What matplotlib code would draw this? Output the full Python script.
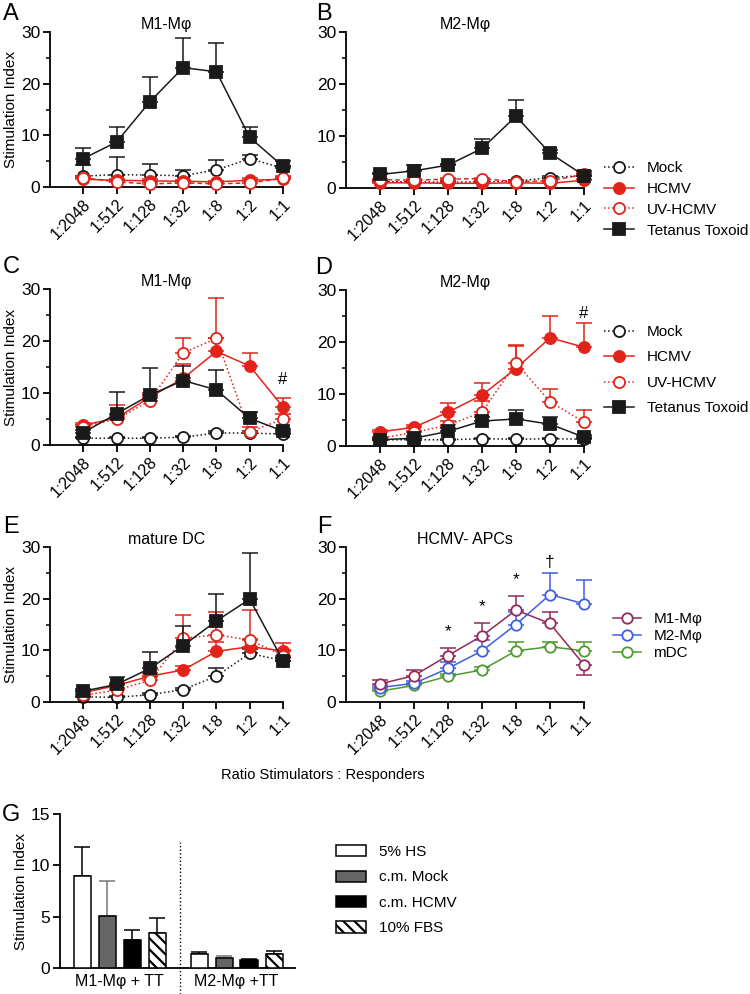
import matplotlib
matplotlib.use("Agg")
import matplotlib.pyplot as plt
import numpy as np
from matplotlib.lines import Line2D
from matplotlib.patches import Patch

plt.rcParams["font.family"] = ["Liberation Sans", "DejaVu Sans"]
plt.rcParams["font.size"] = 11
plt.rcParams["hatch.linewidth"] = 1.6

# ---- data ----
ratios = ["1:2048", "1:512", "1:128", "1:32", "1:8", "1:2", "1:1"]
series_names = ["Mock", "HCMV", "UV-HCMV", "Tetanus Toxoid"]

# A: M1-Mphi
a_mock = [2.1, 2.4, 2.3, 2.2, 3.3, 5.5, 3.6]
a_mock_err = [2.2, 3.5, 2.1, 1.1, 1.9, 0.6, 0.5]
a_hcmv = [1.5, 1.3, 1.2, 1.1, 1.0, 1.3, 1.5]
a_hcmv_err = [0.4, 0.3, 0.3, 0.3, 0.2, 0.5, 0.4]
a_uv = [1.8, 1.0, 0.6, 0.8, 0.6, 0.8, 1.7]
a_uv_err = [0.3, 0.4, 0.3, 0.3, 0.3, 0.4, 0.4]
a_tt = [5.5, 8.7, 16.5, 23.1, 22.3, 9.6, 4.0]
a_tt_err = [2.1, 3.0, 4.7, 5.8, 5.6, 2.0, 1.0]

# B: M2-Mphi
b_mock = [1.2, 1.2, 1.1, 1.2, 1.3, 2.0, 2.4]
b_mock_err = [0.2, 0.2, 0.2, 0.2, 0.2, 0.3, 0.3]
b_hcmv = [1.0, 1.0, 0.9, 0.9, 1.0, 0.9, 1.5]
b_hcmv_err = [0.2, 0.2, 0.2, 0.2, 0.2, 0.2, 0.3]
b_uv = [1.6, 1.5, 1.7, 1.8, 1.2, 1.4, 2.6]
b_uv_err = [0.2, 0.2, 0.2, 0.2, 0.2, 0.2, 0.3]
b_tt = [2.6, 3.3, 4.4, 7.6, 13.8, 6.7, 2.4]
b_tt_err = [0.3, 1.2, 0.3, 1.9, 3.2, 0.6, 0.8]

# C: M1-Mphi
c_mock = [1.3, 1.3, 1.3, 1.5, 2.3, 2.3, 2.1]
c_mock_err = [0.2, 0.2, 0.2, 0.2, 0.3, 0.3, 0.3]
c_hcmv = [3.8, 5.2, 9.2, 12.8, 18.0, 15.2, 7.3]
c_hcmv_err = [0.4, 2.4, 0.8, 2.7, 2.5, 2.4, 1.7]
c_uv = [3.5, 5.0, 8.5, 17.7, 20.5, 2.5, 5.0]
c_uv_err = [0.3, 0.5, 0.5, 2.8, 7.7, 1.0, 1.0]
c_tt = [2.4, 6.0, 9.6, 12.4, 10.6, 5.1, 2.7]
c_tt_err = [0.5, 4.2, 5.2, 2.8, 3.8, 1.2, 0.3]

# D: M2-Mphi
d_mock = [1.2, 1.2, 1.2, 1.4, 1.3, 1.4, 1.3]
d_mock_err = [0.2, 0.2, 0.2, 0.2, 0.2, 0.2, 0.2]
d_hcmv = [2.7, 3.6, 6.5, 9.8, 14.9, 20.8, 19.0]
d_hcmv_err = [0.3, 0.4, 1.7, 2.3, 4.3, 4.2, 4.6]
d_uv = [1.5, 2.6, 4.0, 6.5, 16.0, 8.5, 4.6]
d_uv_err = [0.2, 0.3, 0.8, 2.1, 3.4, 2.5, 2.3]
d_tt = [1.2, 1.5, 2.8, 4.8, 5.2, 4.2, 1.7]
d_tt_err = [0.3, 0.5, 0.7, 0.7, 1.7, 1.4, 0.4]

# E: mature DC
e_mock = [1.0, 0.9, 1.4, 2.4, 5.0, 9.4, 8.0]
e_mock_err = [0.2, 0.2, 0.3, 0.3, 1.5, 0.8, 0.8]
e_hcmv = [1.8, 3.2, 5.0, 6.2, 9.8, 10.7, 9.9]
e_hcmv_err = [0.3, 0.4, 0.6, 0.8, 1.8, 1.5, 1.5]
e_uv = [1.3, 2.3, 4.2, 12.3, 13.0, 12.0, 9.0]
e_uv_err = [0.3, 0.5, 0.7, 4.6, 4.4, 5.8, 1.0]
e_tt = [2.1, 3.4, 6.5, 10.9, 15.7, 19.9, 8.0]
e_tt_err = [0.4, 1.4, 3.2, 3.9, 5.3, 9.0, 0.5]

# F: HCMV- APCs
apc_names = ["M1-Mφ", "M2-Mφ", "mDC"]
f_m1 = [3.5, 5.1, 9.0, 12.8, 17.8, 15.2, 7.2]
f_m1_err_up = [0.8, 1.0, 1.5, 2.5, 2.7, 2.3, 0.0]
f_m1_err_lo = [0.0, 0.0, 0.0, 0.0, 0.0, 0.0, 2.0]
f_m2 = [2.8, 3.6, 6.5, 9.9, 15.0, 20.8, 19.0]
f_m2_err = [0.3, 0.4, 1.2, 2.1, 2.5, 4.2, 4.6]
f_dc = [2.1, 3.2, 5.0, 6.2, 9.9, 10.7, 9.9]
f_dc_err = [0.3, 0.3, 0.5, 0.6, 1.8, 1.0, 1.8]
f_marks = ["", "", "*", "*", "*", "†", ""]
f_mark_y = [0, 0, 13.6, 18.4, 23.6, 27.0, 0]

# significance marks in C and D at 1:1
c_mark_y = 12.6
d_mark_y = 25.4

# G: bars
g_groups = ["M1-Mφ + TT", "M2-Mφ +TT"]
g_conditions = ["5% HS", "c.m. Mock", "c.m. HCMV", "10% FBS"]
g_m1 = [9.0, 5.1, 2.7, 3.45]
g_m1_err = [2.75, 3.4, 1.05, 1.45]
g_m2 = [1.35, 1.0, 0.8, 1.35]
g_m2_err = [0.2, 0.15, 0.08, 0.3]

RED = "#e2231a"
BLK = "#1a1a1a"
C_M1 = "#93295a"
C_M2 = "#3d5fe0"
C_DC = "#4e9a2e"

fig = plt.figure(figsize=(7.5, 9.94), dpi=100)
W, H = 750.0, 994.0


def add_ax(x0, x1, ytop, ybot):
    return fig.add_axes([x0 / W, 1 - ybot / H, (x1 - x0) / W, (ybot - ytop) / H])


def style(ax, ymax=30, major=10, minor=True, xt=True):
    for s in ["top", "right"]:
        ax.spines[s].set_visible(False)
    for s in ["left", "bottom"]:
        ax.spines[s].set_linewidth(1.3)
    ax.set_ylim(0, ymax)
    ax.set_yticks(np.arange(0, ymax + 1, major))
    if minor:
        ax.set_yticks(np.arange(major / 2, ymax, major), minor=True)
    ax.tick_params(direction="out", length=5, width=1.3, labelsize=12.5, pad=2)
    ax.tick_params(which="minor", length=3, width=1.1)
    if xt:
        ax.set_xlim(-1, 6)
        ax.set_xticks(range(len(ratios)))
        ax.set_xticklabels(ratios, rotation=45, ha="right", rotation_mode="anchor", fontsize=11.5)


def series(ax, y, err, color, marker, ls, filled, ms=8, lo=None, z=3):
    x = np.arange(len(y))
    lower = np.zeros(len(y)) if lo is None else np.array(lo)
    ax.errorbar(x, y, yerr=[lower, err], fmt="none", ecolor=color, elinewidth=1.1,
                capsize=5.5, capthick=1.1, clip_on=False, zorder=z)
    ax.plot(x, y, color=color, ls=ls, lw=1.1, marker=marker, ms=ms,
            mfc=color if filled else "white", mec=color, mew=1.3,
            clip_on=False, zorder=z + 0.5)


styles = [
    dict(color=BLK, marker="o", ls=":", filled=False),
    dict(color=RED, marker="o", ls="-", filled=True),
    dict(color=RED, marker="o", ls=":", filled=False),
    dict(color=BLK, marker="s", ls="-", filled=True),
]


def four(ax, data, uv_ls=":"):
    for i, (y, e) in enumerate(data):
        st = dict(styles[i])
        if i == 2:
            st["ls"] = uv_ls
        series(ax, y, e, z=2 + i, **st)


def handles4():
    hs = []
    for st in styles:
        hs.append(Line2D([], [], color=st["color"], ls=st["ls"], lw=1.1, marker=st["marker"], ms=8,
                         mfc=st["color"] if st["filled"] else "white", mec=st["color"], mew=1.3))
    return hs


# ---- A / B ----
axA = add_ax(50, 283, 32, 187)
style(axA)
four(axA, [(a_mock, a_mock_err), (a_hcmv, a_hcmv_err), (a_uv, a_uv_err), (a_tt, a_tt_err)],
     uv_ls=(0, (3, 2)))
axA.set_title("M1-Mφ", fontsize=11.5, pad=1)
axA.set_ylabel("Stimulation Index", fontsize=11, labelpad=2)

axB = add_ax(346, 584, 32, 188)
style(axB)
four(axB, [(b_mock, b_mock_err), (b_hcmv, b_hcmv_err), (b_uv, b_uv_err), (b_tt, b_tt_err)],
     uv_ls=(0, (3, 2)))
axB.set_title("M2-Mφ", fontsize=11.5, pad=1)

fig.legend(handles4(), series_names, loc="upper left", bbox_to_anchor=(604 / W, 1 - 161 / H),
           frameon=False, borderpad=0, borderaxespad=0, handlelength=1.95, handletextpad=0.85,
           labelspacing=0.45, fontsize=11)

# ---- C / D ----
axC = add_ax(50, 283, 289, 445)
style(axC)
four(axC, [(c_mock, c_mock_err), (c_hcmv, c_hcmv_err), (c_uv, c_uv_err), (c_tt, c_tt_err)])
axC.set_title("M1-Mφ", fontsize=11.5, pad=1)
axC.set_ylabel("Stimulation Index", fontsize=11, labelpad=2)
axC.text(6, c_mark_y, "#", ha="center", va="center", fontsize=12)

axD = add_ax(346, 584, 290, 446)
style(axD)
four(axD, [(d_mock, d_mock_err), (d_hcmv, d_hcmv_err), (d_uv, d_uv_err), (d_tt, d_tt_err)])
axD.set_title("M2-Mφ", fontsize=11.5, pad=1)
axD.text(6, d_mark_y, "#", ha="center", va="center", fontsize=12)

fig.legend(handles4(), series_names, loc="upper left", bbox_to_anchor=(604 / W, 1 - 325 / H),
           frameon=False, borderpad=0, borderaxespad=0, handlelength=1.95, handletextpad=0.85,
           labelspacing=0.75, fontsize=11)

# ---- E / F ----
axE = add_ax(50, 283, 547, 702)
style(axE)
four(axE, [(e_mock, e_mock_err), (e_hcmv, e_hcmv_err), (e_uv, e_uv_err), (e_tt, e_tt_err)])
axE.set_title("mature DC", fontsize=11.5, pad=1)
axE.set_ylabel("Stimulation Index", fontsize=11, labelpad=2)

axF = add_ax(346, 584, 547, 702)
style(axF)
series(axF, f_dc, f_dc_err, C_DC, "o", "-", False, ms=7.5, z=2)
series(axF, f_m2, f_m2_err, C_M2, "o", "-", False, ms=7.5, z=3)
series(axF, f_m1, f_m1_err_up, C_M1, "o", "-", False, ms=7.5, lo=f_m1_err_lo, z=4)
axF.set_title("HCMV- APCs", fontsize=11.5, pad=1)
for i, m in enumerate(f_marks):
    if m:
        axF.text(i, f_mark_y[i], m, ha="center", va="center", fontsize=12.5)

hF = [Line2D([], [], color=c, lw=1.1, marker="o", ms=7.5, mfc="white", mec=c, mew=1.3)
      for c in (C_M1, C_M2, C_DC)]
fig.legend(hF, apc_names, loc="upper left", bbox_to_anchor=(613 / W, 1 - 612 / H),
           frameon=False, borderpad=0, borderaxespad=0, handlelength=1.8, handletextpad=0.85,
           labelspacing=0.2, fontsize=11)

fig.text(323 / W, 1 - 775 / H, "Ratio Stimulators : Responders", ha="center", va="center", fontsize=10.5)

# ---- G ----
axG = add_ax(60, 295, 814, 968)
style(axG, ymax=15, major=5, minor=False, xt=False)
bar_fc = ["white", "#666666", "black", "white"]
bar_hatch = [None, None, None, "\\\\\\"]
err_col = ["black", "#777777", "black", "black"]
bases = [0.88, 5.56]
for g, (vals, errs) in enumerate([(g_m1, g_m1_err), (g_m2, g_m2_err)]):
    for i in range(4):
        x = bases[g] + i
        axG.bar(x, vals[i], width=0.68, color=bar_fc[i], edgecolor="black", linewidth=1.1,
                hatch=bar_hatch[i], zorder=3)
        axG.errorbar(x, vals[i], yerr=[[0], [errs[i]]], fmt="none", ecolor=err_col[i],
                     elinewidth=1.1, capsize=5.5, capthick=1.1, zorder=2)
axG.set_xlim(0, 9.4)
axG.set_xticks([bases[0] + 1.5, bases[1] + 1.5])
axG.set_xticklabels(g_groups, fontsize=11.5)
axG.tick_params(axis="x", length=0, pad=4)
axG.axvline(4.8, ymin=-0.17, ymax=0.82, color="black", ls=":", lw=1.0, clip_on=False)
axG.set_ylabel("Stimulation Index", fontsize=11, labelpad=2)

hG = [Patch(facecolor=bar_fc[i], edgecolor="black", linewidth=1.1, hatch=bar_hatch[i]) for i in range(4)]
fig.legend(hG, g_conditions, loc="upper left", bbox_to_anchor=(336 / W, 1 - 845 / H),
           frameon=False, borderpad=0, borderaxespad=0, handlelength=1.95, handleheight=0.75,
           handletextpad=0.85, labelspacing=0.75, fontsize=11)

# ---- panel letters ----
for lab, x, y in [("A", 11, 14), ("B", 324, 14), ("C", 11, 267), ("D", 324, 268),
                  ("E", 11, 527), ("F", 324, 527), ("G", 11, 815)]:
    fig.text(x / W, 1 - y / H, lab, fontsize=17, ha="center", va="center")

fig.savefig("out.png", dpi=100)
